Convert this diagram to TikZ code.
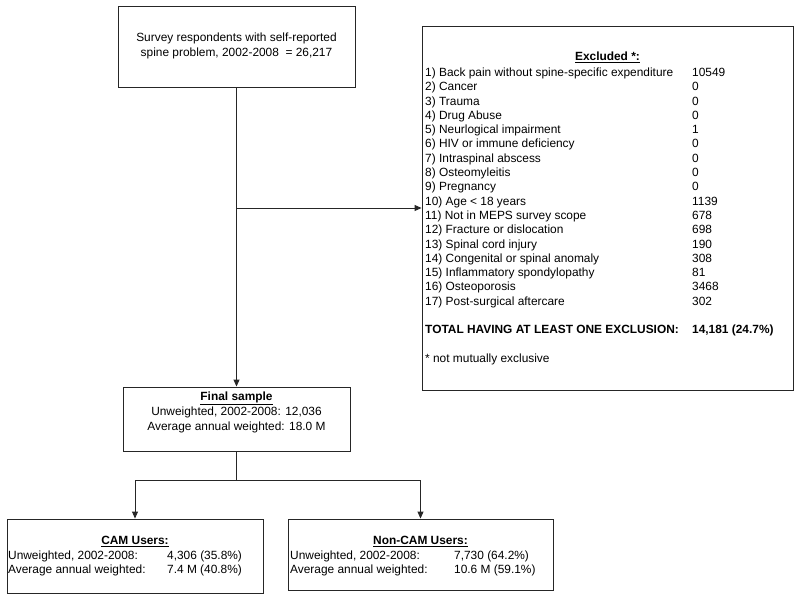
\documentclass[tikz,border=0pt]{standalone}
\usepackage{fontspec}
\setmainfont{Liberation Sans}
\usetikzlibrary{arrows.meta}
\begin{document}
\begin{tikzpicture}[x=1pt,y=-1pt,
  box/.style={draw=black!85, line width=0.9pt, rectangle, inner sep=0pt},
  conn/.style={draw=black!85, line width=0.9pt},
  arr/.style={conn, -{Triangle[length=7pt,width=6pt]}},
  txt/.style={inner sep=0pt, font=\fontsize{11.9}{15}\selectfont, align=center},
  tab/.style={inner sep=0pt, font=\fontsize{11.9}{14.3}\selectfont}]
\useasboundingbox (0,0) rectangle (800,601);
% boxes
\node[box, minimum width=237pt, minimum height=81pt] (top) at (236.5,46.5) {};
\node[box, minimum width=371pt, minimum height=364pt] (excl) at (607.5,208) {};
\node[box, minimum width=227pt, minimum height=64pt] (final) at (236.5,419) {};
\node[box, minimum width=256pt, minimum height=74pt] (cam) at (135,556) {};
\node[box, minimum width=265pt, minimum height=71pt] (noncam) at (420.5,554.5) {};
% texts
\node[txt] (toptxt) at (236.5,46) {Survey respondents with self-reported\\spine problem, 2002-2008 \ = 26,217};
\node[txt] (exclhead) at (607.5,57) {\underline{\textbf{Excluded *:}}};
\node[tab, anchor=base west] (excltab) at (425,76.5) {\renewcommand{\arraystretch}{1}\begin{tabular}[t]{@{}p{267pt}@{}l@{}}
1) Back pain without spine-specific expenditure & 10549\\
2) Cancer & 0\\
3) Trauma & 0\\
4) Drug Abuse & 0\\
5) Neurlogical impairment & 1\\
6) HIV or immune deficiency & 0\\
7) Intraspinal abscess & 0\\
8) Osteomyleitis & 0\\
9) Pregnancy & 0\\
10) Age {<} 18 years & 1139\\
11) Not in MEPS survey scope & 678\\
12) Fracture or dislocation & 698\\
13) Spinal cord injury & 190\\
14) Congenital or spinal anomaly & 308\\
15) Inflammatory spondylopathy & 81\\
16) Osteoporosis & 3468\\
17) Post-surgical aftercare & 302\\
 & \\
\textbf{TOTAL HAVING AT LEAST ONE EXCLUSION:} & \textbf{14,181 (24.7\%)}\\
 & \\
{*} not mutually exclusive & \\
\end{tabular}};
\node[txt] (finaltxt) at (236.5,412) {\underline{\textbf{Final sample}}\\Unweighted, 2002-2008: 12,036\\Average annual weighted: 18.0 M};
\node[txt] (camhead) at (135,541.5) {\underline{\textbf{CAM Users:}}};
\node[tab, anchor=base west] (camtab) at (8,559.5) {\begin{tabular}[t]{@{}p{159pt}@{}l@{}}
Unweighted, 2002-2008: & 4,306 (35.8\%)\\
Average annual weighted: & 7.4 M (40.8\%)\\
\end{tabular}};
\node[txt] (noncamhead) at (420.5,541.5) {\underline{\textbf{Non-CAM Users:}}};
\node[tab, anchor=base west] (noncamtab) at (290,559.5) {\begin{tabular}[t]{@{}p{164pt}@{}l@{}}
Unweighted, 2002-2008: & 7,730 (64.2\%)\\
Average annual weighted: & 10.6 M (59.1\%)\\
\end{tabular}};
% connectors
\coordinate (br) at (236.5,208);
\coordinate (j) at (236.5,480);
\draw[arr] (top.south) -- (final.north);
\draw[arr] (br) -- (excl.west |- br);
\draw[conn] (final.south) -- (j);
\draw[arr] (j) -| (cam.north);
\draw[arr] (j) -| (noncam.north);
\end{tikzpicture}
\end{document}
